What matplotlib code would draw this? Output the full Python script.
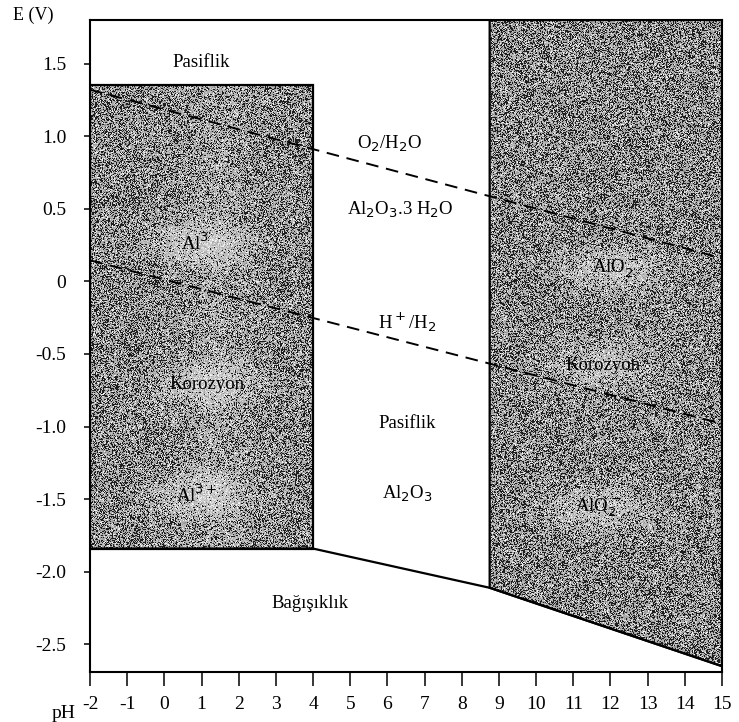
import numpy as np
import matplotlib.pyplot as plt
from matplotlib.patches import Polygon

plt.rcParams['font.family'] = ['Liberation Serif', 'DejaVu Serif']

# eksen sinirlari ve isaretler
ph_lim = [-2, 15]
e_lim = [-2.69, 1.80]
ph_ticks = list(range(-2, 16))
e_ticks = [1.5, 1.0, 0.5, 0, -0.5, -1.0, -1.5, -2.0, -2.5]
e_tick_labels = ['1.5', '1.0', '0.5', '0', '-0.5', '-1.0', '-1.5', '-2.0', '-2.5']

# Al3+ korozyon bolgesi (sol kutu)
sol_ph = [-2, 4.0, 4.0, -2]
sol_e = [1.35, 1.35, -1.84, -1.84]

# AlO2- korozyon bolgesi (sag kutu)
sag_ph = [8.75, 15, 15, 8.75]
sag_e = [1.80, 1.80, -2.65, -2.11]

# bagisiklik siniri
alt_ph = [-2, 4.0, 8.75, 15]
alt_e = [-1.84, -1.84, -2.11, -2.65]

# su kararlilik cizgileri
o2_ph = [-2, 15]
o2_e = [1.32, 0.16]
h2_ph = [-2, 15]
h2_e = [0.145, -0.98]

# bolge yazilari (golgeli bolgede olanlar True)
etiketler = [
    ('Pasiflik', 0.99, 1.51, False),
    (r'O$_2$/H$_2$O', 6.07, 0.95, False),
    (r'Al$_2$O$_3$.3 H$_2$O', 6.34, 0.49, False),
    (r'Al$^3$', 0.82, 0.26, True),
    (r'H$^+$/H$_2$', 6.53, -0.28, False),
    (r'AlO$_2^-$', 12.12, 0.09, True),
    ('Korozyon', 1.15, -0.71, True),
    ('Korozyon', 11.8, -0.58, True),
    ('Pasiflik', 6.53, -0.98, False),
    (r'Al$_2$O$_3$', 6.55, -1.46, False),
    (r'Al$^{3+}$', 0.88, -1.47, True),
    (r'AlO$_2^-$', 11.66, -1.56, True),
    ('Bağışıklık', 3.92, -2.22, False),
]

fig = plt.figure(figsize=(7.39, 7.22), dpi=100)
ax = fig.add_axes([90 / 739, 50 / 722, 632 / 739, 652 / 722])
ax.set_xlim(ph_lim)
ax.set_ylim(e_lim)

# ince grenli gri doku, yazilarin cevresi biraz daha acik
rng = np.random.default_rng(11)
h, w = 652, 632
xx = np.linspace(ph_lim[0], ph_lim[1], w)
yy = np.linspace(e_lim[1], e_lim[0], h)
X, Y = np.meshgrid(xx, yy)
acik = 0.10 * np.exp(-((X - 1.5) / 0.9) ** 2)
for yazi, x, y, golgeli in etiketler:
    if golgeli:
        acik += 0.28 * np.exp(-((X - x) / 1.3) ** 2 - ((Y - y) / 0.15) ** 2)
acik = np.minimum(acik, 0.34)
r = rng.random((h, w))
gri = 0.68 + 0.3 * acik + rng.normal(0, 0.08, (h, w))
gri = np.where(r < 0.36 - acik, 0.12, gri)
gri = np.where(r > 0.93, 0.95, gri)
gri = np.clip(gri, 0, 1)

for xs, ys in [(sol_ph, sol_e), (sag_ph, sag_e)]:
    poly = Polygon(list(zip(xs, ys)), closed=True, fill=False,
                   edgecolor='black', lw=1.6, zorder=3)
    ax.add_patch(poly)
    im = ax.imshow(gri, cmap='gray', vmin=0, vmax=1, interpolation='nearest',
                   extent=[ph_lim[0], ph_lim[1], e_lim[0], e_lim[1]],
                   aspect='auto', zorder=1)
    im.set_clip_path(poly)

ax.plot(alt_ph, alt_e, color='black', lw=1.6, zorder=3)

ax.plot(o2_ph, o2_e, color='black', lw=1.4, dashes=(6.5, 4), zorder=4)
ax.plot(h2_ph, h2_e, color='black', lw=1.4, dashes=(6.5, 4), zorder=4)

for yazi, x, y, golgeli in etiketler:
    ax.text(x, y, yazi, ha='center', va='center', fontsize=13.5, zorder=5)
ax.text(1.17, 0.59, '+', ha='center', va='center', fontsize=11, zorder=5)

for s in ax.spines.values():
    s.set_linewidth(1.5)

ax.set_xticks(ph_ticks)
ax.set_xticklabels([str(t) for t in ph_ticks])
ax.set_yticks(e_ticks)
ax.set_yticklabels(e_tick_labels)
ax.tick_params(axis='x', direction='out', length=10, width=1.1, pad=7, labelsize=14)
ax.tick_params(axis='y', direction='out', length=4, width=1.1, pad=13, labelsize=14)

fig.text(64 / 739, 1 - 713 / 722, 'pH', ha='center', va='center', fontsize=14)
fig.text(33 / 739, 1 - 15 / 722, 'E (V)', ha='center', va='center', fontsize=13)

fig.savefig('out.png', dpi=100)
